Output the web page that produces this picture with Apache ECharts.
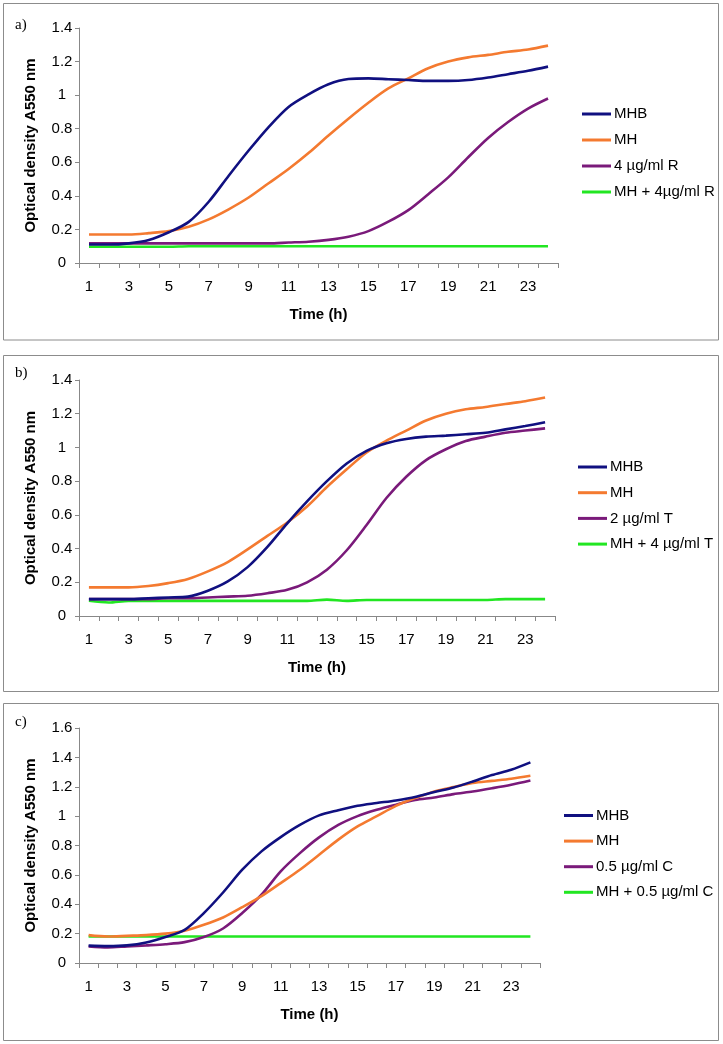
<!DOCTYPE html>
<html>
<head>
<meta charset="utf-8">
<script src="https://cdn.jsdelivr.net/npm/echarts@6/dist/echarts.min.js"></script>
<style>
html,body{margin:0;padding:0;background:#fff;}
#chart{width:723px;height:1044px;}
</style>
</head>
<body>
<div id="chart"></div>
<script>
// ---- data ----
var hours = ['1','2','3','4','5','6','7','8','9','10','11','12','13','14','15','16','17','18','19','20','21','22','23','24'];

var panelLabels = ['a)', 'b)', 'c)'];
var yMax = [1.4, 1.4, 1.6];

var namesA = ['MHB', 'MH', '4 µg/ml R', 'MH + 4µg/ml R'];
var aMHB = [0.11,0.11,0.117,0.137,0.183,0.245,0.365,0.52,0.67,0.81,0.93,1.005,1.065,1.096,1.10,1.095,1.09,1.085,1.085,1.09,1.105,1.125,1.145,1.17];
var aMH = [0.17,0.17,0.17,0.178,0.19,0.216,0.26,0.32,0.39,0.475,0.56,0.655,0.76,0.86,0.955,1.04,1.10,1.16,1.20,1.225,1.24,1.258,1.272,1.295];
var aR = [0.117,0.117,0.117,0.117,0.117,0.117,0.117,0.117,0.117,0.117,0.122,0.127,0.138,0.157,0.19,0.246,0.315,0.41,0.51,0.63,0.745,0.84,0.92,0.98];
var aMHR = [0.097,0.097,0.097,0.097,0.097,0.10,0.10,0.10,0.10,0.10,0.10,0.10,0.10,0.10,0.10,0.10,0.10,0.10,0.10,0.10,0.10,0.10,0.10,0.10];

var namesB = ['MHB', 'MH', '2 µg/ml T', 'MH + 4 µg/ml T'];
var bMHB = [0.10,0.10,0.10,0.105,0.11,0.115,0.15,0.205,0.29,0.41,0.55,0.68,0.80,0.905,0.98,1.025,1.05,1.064,1.07,1.078,1.087,1.107,1.127,1.149];
var bMH = [0.17,0.17,0.17,0.178,0.195,0.22,0.265,0.32,0.395,0.475,0.555,0.65,0.765,0.87,0.97,1.04,1.10,1.16,1.20,1.226,1.24,1.258,1.274,1.296];
var bT = [0.10,0.10,0.10,0.10,0.105,0.105,0.11,0.115,0.12,0.135,0.155,0.20,0.275,0.39,0.54,0.70,0.826,0.925,0.989,1.038,1.064,1.087,1.10,1.113];
var bMHT = [0.09,0.08,0.09,0.09,0.09,0.09,0.09,0.09,0.09,0.09,0.09,0.09,0.097,0.09,0.095,0.095,0.095,0.095,0.095,0.095,0.095,0.10,0.10,0.10];

var namesC = ['MHB', 'MH', '0.5 µg/ml C', 'MH + 0.5 µg/ml C'];
var cMHB = [0.118,0.115,0.12,0.14,0.177,0.226,0.34,0.48,0.635,0.76,0.857,0.94,1.005,1.04,1.07,1.089,1.107,1.13,1.164,1.195,1.236,1.28,1.316,1.366];
var cMH = [0.19,0.18,0.185,0.19,0.20,0.22,0.26,0.31,0.38,0.455,0.544,0.635,0.737,0.84,0.93,1.0,1.07,1.123,1.168,1.198,1.225,1.24,1.255,1.275];
var cC = [0.113,0.106,0.113,0.12,0.128,0.142,0.177,0.235,0.34,0.465,0.624,0.748,0.855,0.94,1.0,1.043,1.078,1.11,1.127,1.15,1.168,1.19,1.214,1.243];
var cMHC = [0.18,0.18,0.18,0.18,0.18,0.18,0.18,0.18,0.18,0.18,0.18,0.18,0.18,0.18,0.18,0.18,0.18,0.18,0.18,0.18,0.18,0.18,0.18,0.18];

var colors = ['#101080', '#F47A30', '#7A1A7A', '#22E622'];

// ---- layout ----
var panels = [
  { names: namesA, data: [aMHB, aMH, aR, aMHR], box: [3.5, 3.5, 715, 336.5], grid: {left: 79, top: 28, width: 479, height: 235}, legend: {left: 577, top: 101.5, gap: 11}, label: {x: 15, y: 25} },
  { names: namesB, data: [bMHB, bMH, bT, bMHT], box: [3.5, 355.5, 715, 336], grid: {left: 79, top: 380, width: 476, height: 236}, legend: {left: 573, top: 454.5, gap: 10.7}, label: {x: 15, y: 373} },
  { names: namesC, data: [cMHB, cMH, cC, cMHC], box: [3.5, 703.5, 715, 337], grid: {left: 79, top: 728, width: 461, height: 235}, legend: {left: 559, top: 803, gap: 10.6}, label: {x: 15, y: 722} }
];

var FONT = '"Liberation Sans", Arial, sans-serif';
var grids = [], xAxes = [], yAxes = [], series = [], legends = [], graphics = [];

panels.forEach(function (p, i) {
  graphics.push({
    type: 'rect', silent: true, z: 0,
    shape: { x: p.box[0], y: p.box[1], width: p.box[2], height: p.box[3] },
    style: { fill: 'none', stroke: '#8c8c8c', lineWidth: 1 }
  });
  graphics.push({
    type: 'text', silent: true,
    x: p.label.x, y: p.label.y,
    style: { text: panelLabels[i], font: '15px "Liberation Serif", "Times New Roman", serif', fill: '#000', verticalAlign: 'middle' }
  });
  grids.push({ left: p.grid.left, top: p.grid.top, width: p.grid.width, height: p.grid.height });
  xAxes.push({
    type: 'category', gridIndex: i, data: hours, boundaryGap: true,
    name: 'Time (h)', nameLocation: 'middle', nameGap: 44,
    nameTextStyle: { fontFamily: FONT, fontSize: 15, fontWeight: 'bold', color: '#000' },
    axisLine: { lineStyle: { color: '#888', width: 1 } },
    axisTick: { show: true, interval: 0, length: 5, lineStyle: { color: '#888' } },
    axisLabel: { interval: 1, margin: 16, fontFamily: FONT, fontSize: 15, color: '#000' },
    splitLine: { show: false }
  });
  yAxes.push({
    type: 'value', gridIndex: i, min: 0, max: yMax[i], interval: 0.2,
    name: 'Optical density A550 nm', nameLocation: 'middle', nameGap: 41, nameRotate: 90,
    nameTextStyle: { fontFamily: FONT, fontSize: 15, fontWeight: 'bold', color: '#000' },
    axisLine: { show: true, lineStyle: { color: '#888', width: 1 } },
    axisTick: { show: true, length: 4, lineStyle: { color: '#888' } },
    axisLabel: { margin: 17, align: 'center', fontFamily: FONT, fontSize: 15, color: '#000' },
    splitLine: { show: false }
  });
  p.names.forEach(function (nm, k) {
    series.push({
      type: 'line', name: nm, xAxisIndex: i, yAxisIndex: i,
      data: p.data[k], smooth: 0.3, showSymbol: false, symbol: 'none',
      lineStyle: { color: colors[k], width: 2.6 }, itemStyle: { color: colors[k] },
      z: 10 - k, animation: false
    });
  });
  legends.push({
    orient: 'vertical', left: p.legend.left, top: p.legend.top,
    data: p.names.map(function (nm, k) { return { name: nm, itemStyle: { color: colors[k] } }; }),
    icon: 'rect', itemWidth: 29, itemHeight: 3, itemGap: p.legend.gap,
    textStyle: { fontFamily: FONT, fontSize: 15, color: '#000', padding: [0, 0, 0, -2], lineHeight: 14 },
    selectedMode: false
  });
});

var chart = echarts.init(document.getElementById('chart'), null, { renderer: 'canvas' });
chart.setOption({
  animation: false,
  backgroundColor: '#fff',
  grid: grids, xAxis: xAxes, yAxis: yAxes, series: series, legend: legends,
  graphic: graphics
});
</script>
</body>
</html>
